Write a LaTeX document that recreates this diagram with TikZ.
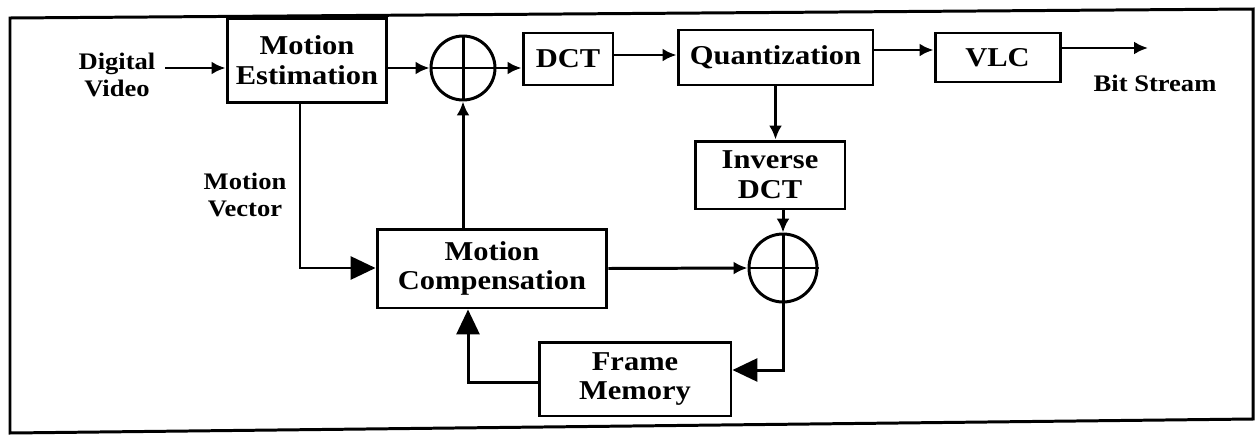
\documentclass[tikz,border=0pt]{standalone}
\usepackage{fontspec}
\setmainfont{Liberation Serif}[FakeStretch=1.12]
\usetikzlibrary{arrows.meta}
\newcommand\boxfont{\fontsize{15.5}{17}\selectfont\bfseries}
\newcommand\lblfont{\fontsize{13.5}{15}\selectfont\bfseries}
\begin{document}
\begin{tikzpicture}[x=0.02cm,y=-0.02cm,line width=1.7pt,
  blk/.style={draw,line width=1.7pt,inner sep=0pt,align=center,font=\boxfont},
  sumnode/.style={draw,circle,line width=1.7pt,inner sep=0pt},
  lbl/.style={align=center,font=\lblfont,inner sep=0pt},
  sarr/.style={-{Latex[length=0.28cm,width=0.26cm]}},
  barr/.style={-{Triangle[length=0.5cm,width=0.46cm]}}]
\useasboundingbox (0,0) rectangle (1256,436);
% frame
\draw[line width=1.7pt] (10,18) -- (1253,9) -- (1253,419) -- (10,433) -- cycle;
% boxes
\node[blk,minimum width=3.2cm,minimum height=1.7cm] (me) at (307,60.5) {Motion\\Estimation};
\node[blk,minimum width=1.8cm,minimum height=1.04cm] (dct) at (568,59) {DCT};
\node[blk,minimum width=3.9cm,minimum height=1.1cm] (q) at (775.5,57.5) {Quantization};
\node[blk,minimum width=2.5cm,minimum height=0.98cm] (vlc) at (997.5,57.5) {VLC};
\node[blk,minimum width=3.0cm,minimum height=1.36cm] (idct) at (770,175) {Inverse\\DCT};
\node[blk,minimum width=4.6cm,minimum height=1.58cm] (mc) at (492,268.5) {Motion\\Compensation};
\node[blk,minimum width=3.84cm,minimum height=1.48cm] (fm) at (635,379) {Frame\\Memory};
% adders
\node[sumnode,minimum size=1.28cm] (c1) at (463,68) {};
\draw (c1.north) -- (c1.south) (c1.west) -- (c1.east);
\node[sumnode,minimum size=1.36cm] (c2) at (783,268) {};
\draw (c2.north) -- (c2.south) (c2.west) -- (c2.east);
% labels
\node[lbl] (dv) at (117,75) {Digital\\Video};
\node[lbl] (mvl) at (245,195) {Motion\\Vector};
\node[lbl] (bsl) at (1155,83) {Bit Stream};
% coordinates
\coordinate (dvs) at (165,68);
\coordinate (bse) at (1148,48);
\coordinate (mv) at (300,268);
\coordinate (fbx) at (468,382);
% connectors
\draw[sarr] (dvs) -- (me.west |- dvs);
\draw[sarr] (me.east |- c1) -- (c1.west);
\draw[sarr] (c1.east) -- (dct.west |- c1);
\draw[sarr] (dct.east |- 0,55) -- (q.west |- 0,55);
\draw[sarr] (q.east |- 0,50) -- (vlc.west |- 0,50);
\draw[sarr] (vlc.east |- bse) -- (bse);
\draw[sarr] (q.south) -- (q.south |- idct.north);
\draw[sarr] (c2.north |- idct.south) -- (c2.north);
\draw[sarr] (mc.east) -- (c2.west);
\draw[sarr] (c1.south |- mc.north) -- (c1.south);
\draw[barr] (me.south -| mv) -- (mv) -- (mc.west |- mv);
\draw[barr] (c2.south) -- (c2.south |- 0,370) -- (fm.east |- 0,370);
\draw[barr] (fm.west |- fbx) -- (fbx) -- (fbx |- mc.south);
\end{tikzpicture}
\end{document}
